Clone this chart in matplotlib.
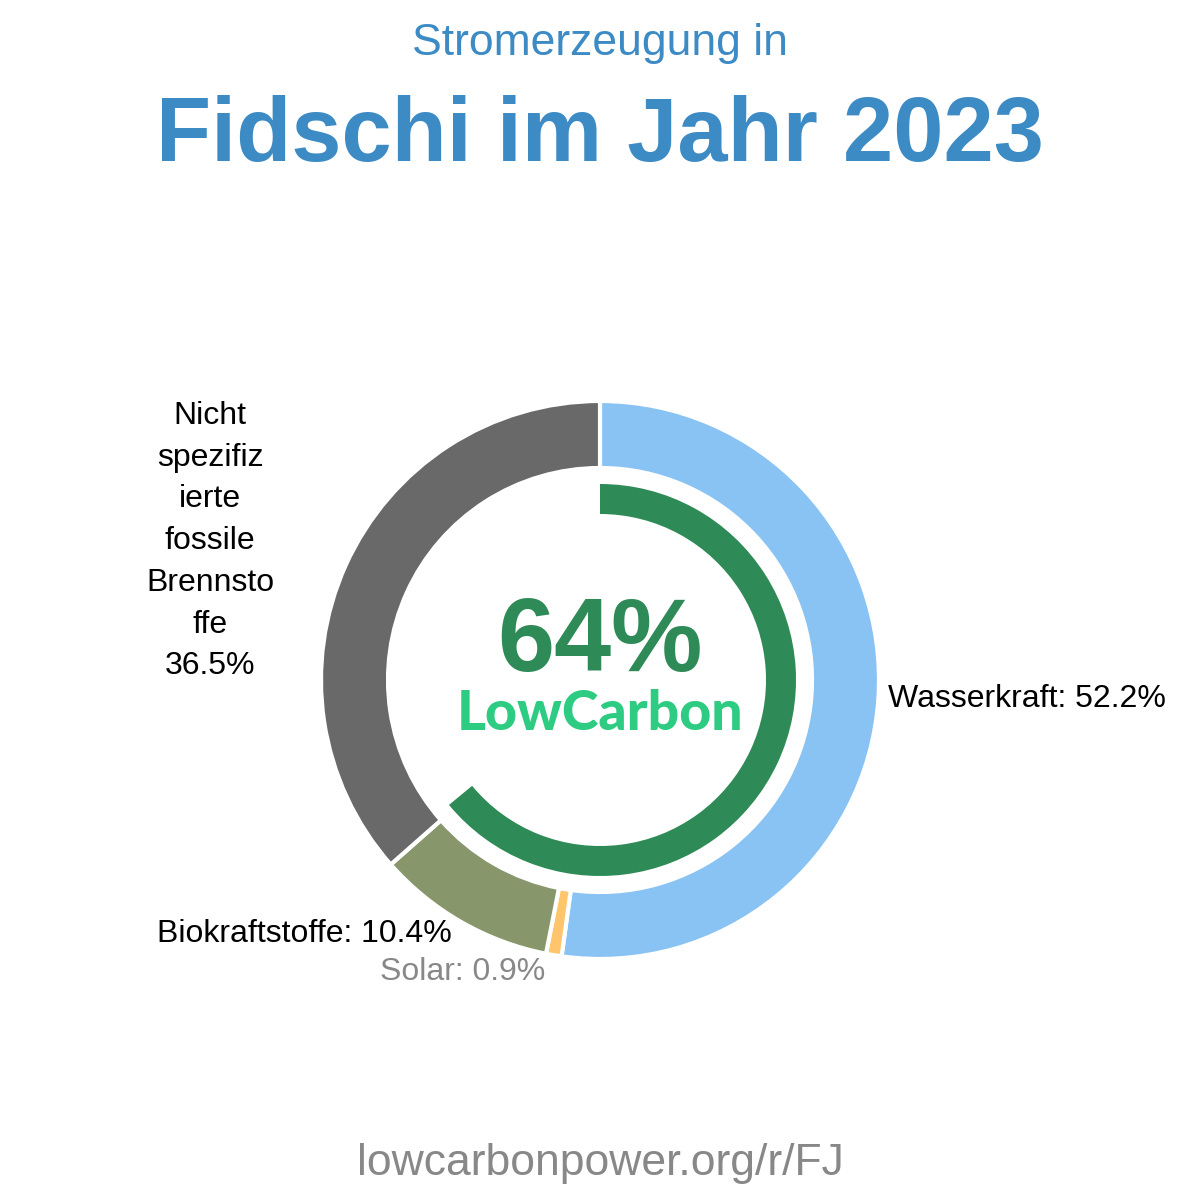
"""Stromerzeugung in Fidschi im Jahr 2023 -- donut chart with low-carbon share."""

import matplotlib.pyplot as plt

plt.rcParams["font.family"] = ["Liberation Sans", "DejaVu Sans"]

SOURCES = ["Wasserkraft", "Solar", "Biokraftstoffe", "Nicht spezifizierte fossile Brennstoffe"]
SHARES = [52.2, 0.9, 10.4, 36.5]
COLORS = ["#89c3f3", "#fec56d", "#87966b", "#696969"]
LOW_CARBON = 64

CENTER = (600, 520)  # pixel coords, y up


def main() -> int:
    fig = plt.figure(figsize=(12, 12), dpi=100)
    ax = fig.add_axes([0, 0, 1, 1])

    ax.pie(SHARES, colors=COLORS, startangle=90, counterclock=False, radius=279,
           center=CENTER, frame=True,
           wedgeprops=dict(width=67, edgecolor="white", linewidth=3))
    ax.pie([LOW_CARBON, 100 - LOW_CARBON], colors=["#2e8b57", "none"], startangle=90,
           counterclock=False, radius=196, center=CENTER, frame=True,
           wedgeprops=dict(width=30, linewidth=0))
    ax.set_xlim(0, 1200)
    ax.set_ylim(0, 1200)
    ax.set_aspect("equal")
    ax.axis("off")

    ax.text(600, 1157, "Stromerzeugung in", ha="center", va="center",
            fontsize=32, color="#3d8bc4")
    ax.text(600, 1063, "Fidschi im Jahr 2023", ha="center", va="center",
            fontsize=65, fontweight="bold", color="#3d8bc4")

    ax.text(600, 556, f"{LOW_CARBON}%", ha="center", va="center",
            fontsize=74, fontweight="bold", color="#2e8b57")
    ax.text(600, 486, "LowCarbon", ha="center", va="center", family=["Lato", "DejaVu Sans"],
            fontsize=40, fontweight=900, color="#2ecc82")

    ax.text(888, 501, f"{SOURCES[0]}: {SHARES[0]}%", ha="left", va="center", fontsize=23)
    ax.text(545, 228, f"{SOURCES[1]}: {SHARES[1]}%", ha="right", va="center",
            fontsize=23, color="#888888")
    ax.text(452, 266, f"{SOURCES[2]}: {SHARES[2]}%", ha="right", va="center", fontsize=23)
    ax.text(210, 799, "Nicht\nspezifiz\nierte\nfossile\nBrennsto\nffe\n" + f"{SHARES[3]}%",
            ha="center", va="top", fontsize=23, linespacing=1.51)

    ax.text(600, 37, "lowcarbonpower.org/r/FJ", ha="center", va="center",
            fontsize=32, color="#888888")

    fig.savefig("out.png", dpi=100)
    return 0


if __name__ == "__main__":
    raise SystemExit(main())
